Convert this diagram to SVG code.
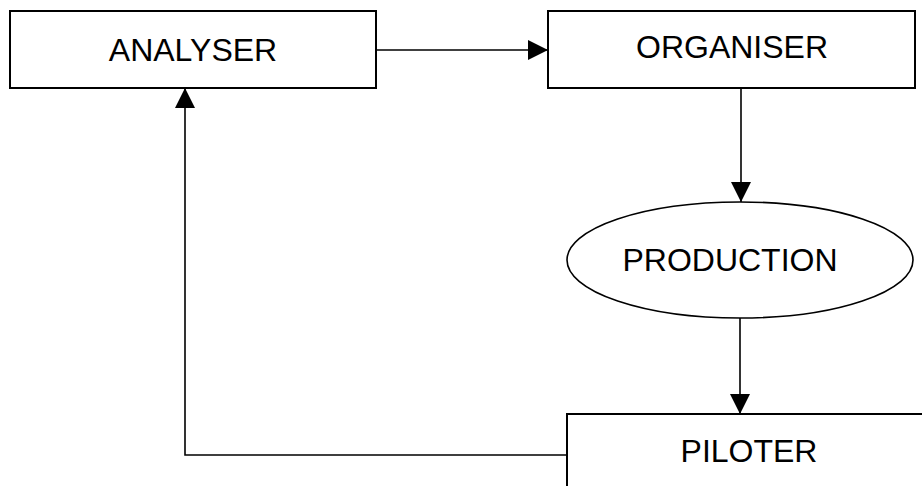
<svg xmlns="http://www.w3.org/2000/svg" width="922" height="486" viewBox="0 0 922 486">
<defs>
<style>
.box{fill:#fff;stroke:#000;stroke-width:2}
.lbl{font-family:"Liberation Sans",Arial,sans-serif;font-size:32px;fill:#000;text-anchor:middle}
.conn{fill:none;stroke:#000;stroke-width:1.6}
</style>
<marker id="ah" viewBox="0 0 20 20" refX="20" refY="10" markerWidth="20" markerHeight="20" markerUnits="userSpaceOnUse" orient="auto">
<path d="M0,0 L20,10 L0,20 Z" fill="#000"/>
</marker>
</defs>
<rect width="922" height="486" fill="#fff"/>
<g id="connectors">
<path class="conn" d="M376,50 L548,50" marker-end="url(#ah)"/>
<path class="conn" d="M741,88 L741,202" marker-end="url(#ah)"/>
<path class="conn" d="M740,318 L740,414" marker-end="url(#ah)"/>
<path class="conn" d="M567,455 L185,455 L185,88" marker-end="url(#ah)"/>
</g>
<g id="analyser">
<rect class="box" x="10" y="11" width="366" height="77"/>
<text class="lbl" x="193" y="61">ANALYSER</text>
</g>
<g id="organiser">
<rect class="box" x="548" y="11" width="367" height="77"/>
<text class="lbl" x="732" y="58">ORGANISER</text>
</g>
<g id="production">
<ellipse class="box" cx="740" cy="260" rx="173" ry="58" style="stroke-width:1.6"/>
<text class="lbl" x="730" y="271">PRODUCTION</text>
</g>
<g id="piloter">
<rect class="box" x="567" y="414" width="380" height="100"/>
<text class="lbl" x="749" y="462">PILOTER</text>
</g>
</svg>
